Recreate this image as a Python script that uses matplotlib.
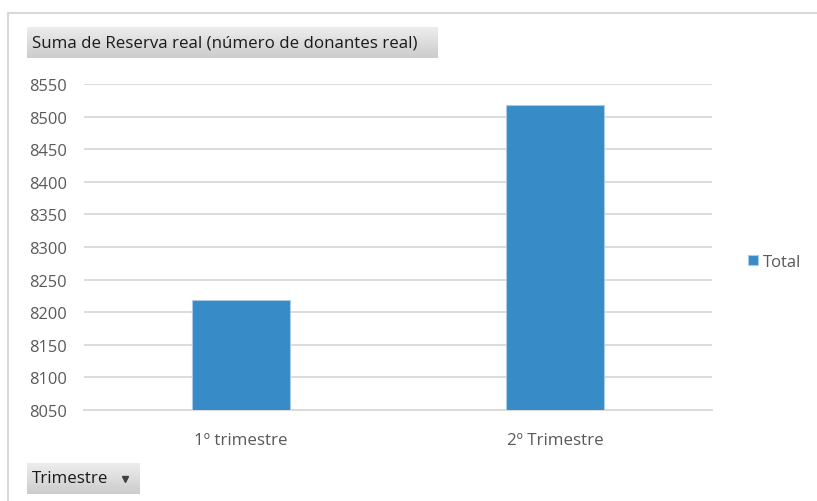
import matplotlib.pyplot as plt
import numpy as np
from matplotlib.lines import Line2D

trimestres = ['1º trimestre', '2º Trimestre']
reserva = [8218, 8518]
serie = 'Total'
yticks = [8050, 8100, 8150, 8200, 8250, 8300, 8350, 8400, 8450, 8500, 8550]

plt.rcParams['font.family'] = ['Open Sans', 'DejaVu Sans']

W, H = 817, 502
fig = plt.figure(figsize=(W / 100, H / 100), dpi=100)

# light frame around the chart
fig.add_artist(Line2D([8 / W, 1], [1 - 14 / H, 1 - 14 / H], color='#d9d9d9', lw=1.5))
fig.add_artist(Line2D([8 / W, 8 / W], [0, 1 - 14 / H], color='#d9d9d9', lw=1.5))

ax = fig.add_axes([84 / W, 1 - 411 / H, 628 / W, 326 / H])
x = np.arange(len(trimestres))
ax.bar(x, reserva, width=0.31, color='#378bc7', edgecolor='#a9cbe6', linewidth=0.8,
       label=serie, zorder=3)
ax.set_xlim(-0.5, 1.5)
ax.set_ylim(8050, 8550)
ax.set_yticks(yticks)
ax.set_xticks(x)
ax.set_xticklabels(trimestres, fontsize=12.2)
ax.yaxis.grid(True, color='#d9d9d9', lw=1.3, zorder=0)
for s in ['top', 'right', 'left']:
    ax.spines[s].set_visible(False)
ax.spines['bottom'].set_color('#d9d9d9')
ax.spines['bottom'].set_linewidth(1.3)
ax.tick_params(axis='both', length=0, colors='#595959', labelsize=11.8)
ax.tick_params(axis='y', pad=12.5)
ax.tick_params(axis='x', pad=16, labelsize=12.2)

ax.legend(loc='center left', bbox_to_anchor=(733 / W, 1 - 263 / H),
          bbox_transform=fig.transFigure, frameon=False, fontsize=12,
          handlelength=0.6, handleheight=0.6, handletextpad=0.3, labelcolor='#595959')


# gray gradient buttons of the pivot chart
def boton(x0, y0, x1, y1, texto, flecha=False):
    bax = fig.add_axes([x0 / W, 1 - y1 / H, (x1 - x0) / W, (y1 - y0) / H])
    grad = np.linspace(0.93, 0.80, 50).reshape(-1, 1)
    bax.imshow(np.dstack([grad, grad, grad]), aspect='auto', extent=[0, 1, 0, 1])
    bax.set_xlim(0, 1)
    bax.set_ylim(0, 1)
    bax.axis('off')
    bax.text(5 / (x1 - x0), 0.5, texto, va='center', ha='left', fontsize=12.2, color='#1a1a1a')
    if flecha:
        bax.plot([(x1 - x0 - 15) / (x1 - x0)], [0.47], marker='v', ms=4.5, color='#404040')


boton(27, 28, 438, 59, 'Suma de Reserva real (número de donantes real)')
boton(27, 464, 140, 495, 'Trimestre', flecha=True)

fig.savefig('out.png', dpi=100)
